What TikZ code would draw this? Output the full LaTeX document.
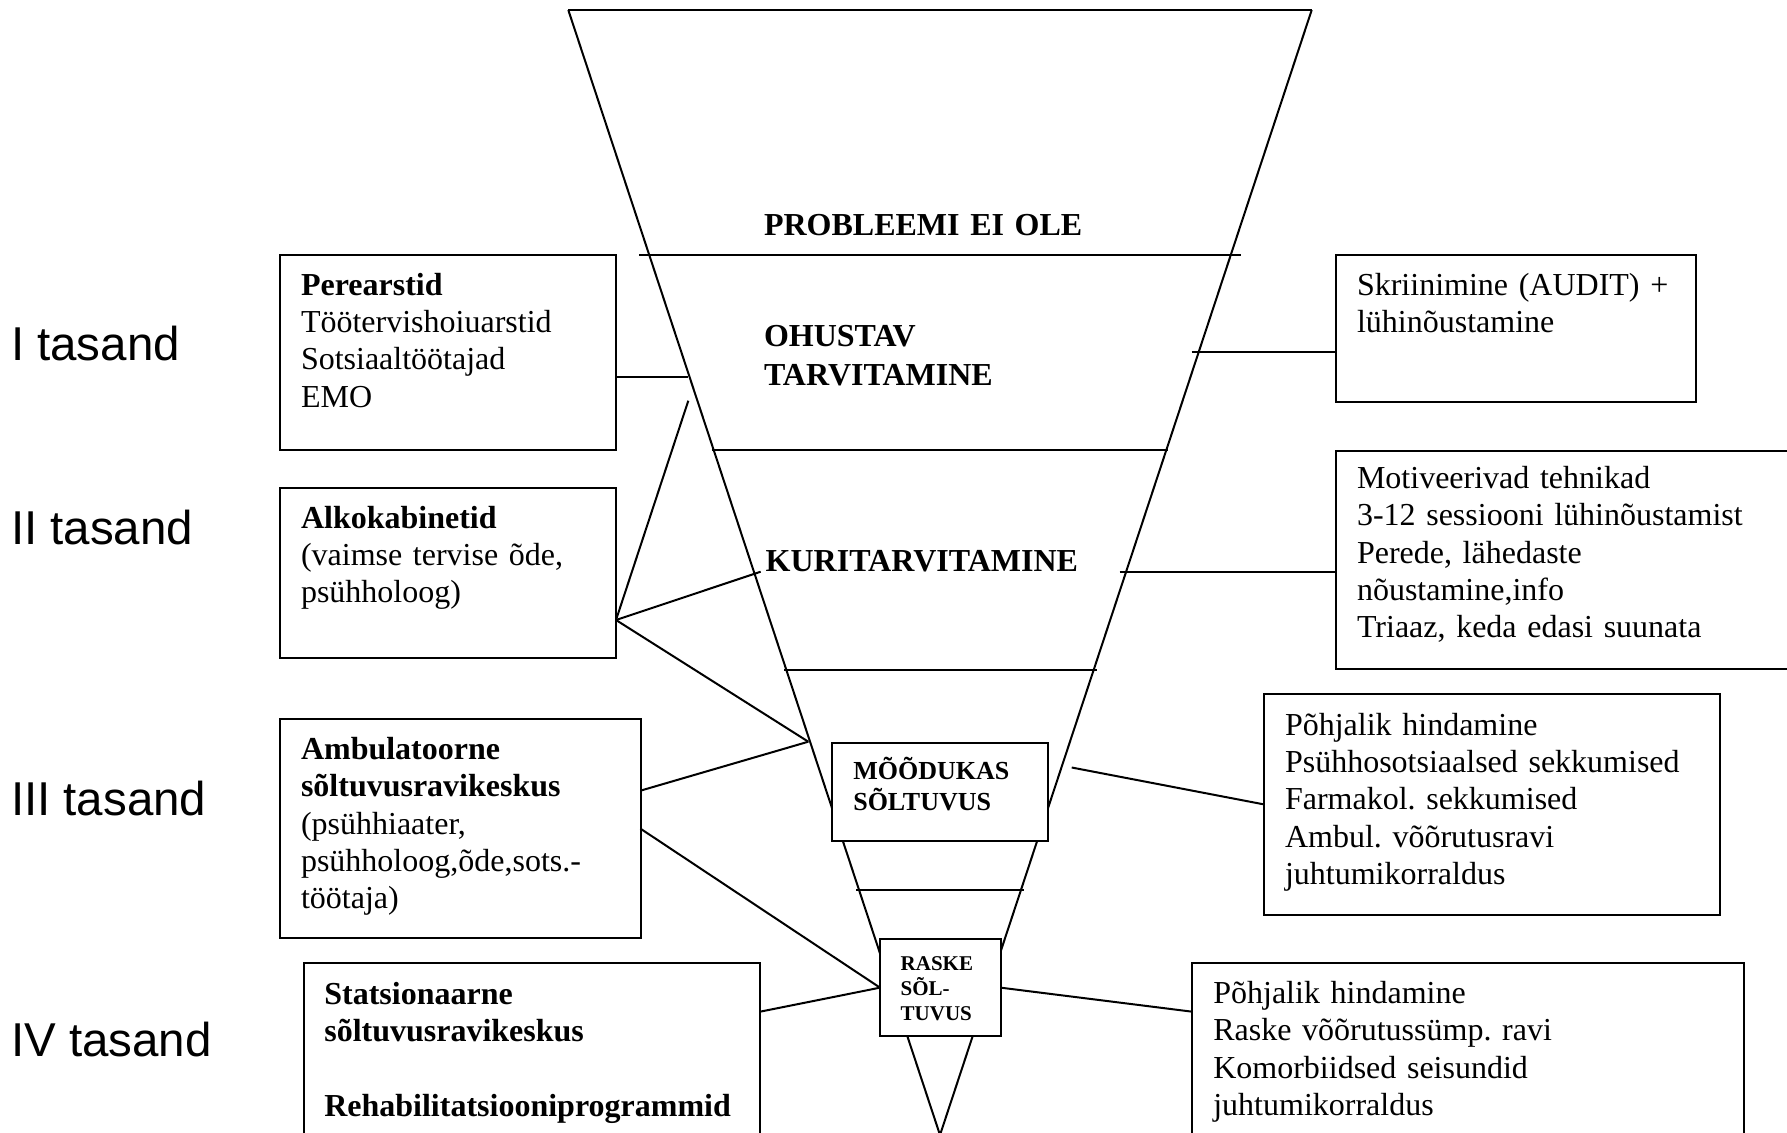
\documentclass[tikz,border=0pt]{standalone}
\usepackage{fontspec}
\setmainfont{Liberation Serif}
\newfontfamily\sanslabel{Liberation Sans}
\frenchspacing
\begin{document}
\begin{tikzpicture}[x=1pt,y=-1pt,line width=2pt,
  box/.style={draw,rectangle,inner sep=0pt,outer sep=0pt,anchor=north west,fill=white},
  txt/.style={inner sep=0pt,outer sep=0pt,anchor=base west,text width=520pt,align=left,font=\frenchspacing\fontsize{32}{37.4}\selectfont},
  headtxt/.style={txt,font=\fontsize{32}{38.3}\selectfont\bfseries},
  tier/.style={inner sep=0pt,outer sep=0pt,anchor=base west,font=\sanslabel\fontsize{47.5}{56}\selectfont}
]
\useasboundingbox (0,0) rectangle (1787,1132);
\clip (0,0) rectangle (1787,1132);
\fill[white] (0,0) rectangle (1787,1132);

% funnel
\coordinate (ftl) at (568.3,10);
\coordinate (ftr) at (1311.7,10);
\coordinate (fap) at (940,1135);
\draw (ftl) -- (ftr);
\draw (ftl) -- (fap) -- (ftr);

% level lines
\draw (639.3,255) -- (1240.7,255);
\draw (711.7,450) -- (1168,450);
\draw (784,670) -- (1096.7,670);
\draw (856,890) -- (1024.3,890);

% centre boxes
\node[box,minimum width=216pt,minimum height=97.4pt] (mood) at (832.3,743.3) {};
\node[box,minimum width=120.7pt,minimum height=96.7pt] (raske) at (880,939.3) {};

% side boxes
\node[box,minimum width=336pt,minimum height=195.5pt] (b1) at (280,254.5) {};
\node[box,minimum width=336pt,minimum height=170.6pt] (b2) at (280,487.7) {};
\node[box,minimum width=360.5pt,minimum height=219.3pt] (b3) at (280,719) {};
\node[box,minimum width=456pt,minimum height=200pt] (b4) at (304,963.3) {};
\node[box,minimum width=360.5pt,minimum height=147.2pt] (r1) at (1335.5,254.5) {};
\node[box,minimum width=480pt,minimum height=218.3pt] (r2) at (1336,450.7) {};
\node[box,minimum width=456pt,minimum height=220.2pt] (r3) at (1264,694.3) {};
\node[box,minimum width=552pt,minimum height=200pt] (r4) at (1192.3,963.3) {};

% connector points
\coordinate (hub) at ([yshift=-47pt]b2.east);
\coordinate (p1) at (688.3,376.7);
\coordinate (p2) at (688.3,400.7);
\coordinate (p3) at (760.7,571.7);
\coordinate (p4) at (808.3,741.7);
\coordinate (p5) at (1191.7,351.7);
\coordinate (p6) at (1119.5,572.3);
\coordinate (p7) at (1071.7,767.5);

% connectors
\draw (b1.east |- p1) -- (p1);
\draw (hub) -- (p2);
\draw (hub) -- (p3);
\draw (hub) -- (p4);
\draw ([yshift=38pt]b3.east) -- (p4);
\draw (b3.east) -- (raske.west);
\draw ([yshift=-48.4pt]b4.north east) -- (raske.west);
\draw (raske.east) -- ([yshift=-48.4pt]r4.north west);
\draw (p7) -- (r3.west);
\draw (p6) -- (r2.west |- p6);
\draw (p5) -- (r1.west |- p5);

% funnel texts
\node[headtxt] (tprob) at (764,235) {PROBLEEMI EI OLE};
\node[headtxt] (tohu) at (764,346.7) {OHUSTAV\\TARVITAMINE};
\node[headtxt] (tkur) at (765.7,571.7) {KURITARVITAMINE};
\node[txt,font=\fontsize{26}{31.7}\selectfont\bfseries] (tmood) at (853.3,779) {MÕÕDUKAS\\SÕLTUVUS};
\node[txt,font=\fontsize{21}{25.3}\selectfont\bfseries] (trask) at (900.7,970) {RASKE\\SÕL-\\TUVUS};

% left texts
\node[txt] (tb1) at (301,295) {\textbf{Perearstid}\\Töötervishoiuarstid\\Sotsiaaltöötajad\\EMO};
\node[txt] (tb2) at (301,528) {\textbf{Alkokabinetid}\\(vaimse tervise õde,\\psühholoog)};
\node[txt] (tb3) at (301,759.3) {\textbf{Ambulatoorne}\\\textbf{sõltuvusravikeskus}\\(psühhiaater,\\psühholoog,õde,sots.-\\töötaja)};
\node[txt] (tb4) at (324.3,1004) {\textbf{Statsionaarne}\\\textbf{sõltuvusravikeskus}\\[37.4pt]\textbf{Rehabilitatsiooniprogrammid}};

% right texts
\node[txt] (tr1) at (1357,295) {Skriinimine (AUDIT) +\\lühinõustamine};
\node[txt] (tr2) at (1357,488.3) {Motiveerivad tehnikad\\3-12 sessiooni lühinõustamist\\Perede, lähedaste\\nõustamine,info\\Triaaz, keda edasi suunata};
\node[txt] (tr3) at (1285,735) {Põhjalik hindamine\\Psühhosotsiaalsed sekkumised\\Farmakol. sekkumised\\Ambul. võõrutusravi\\juhtumikorraldus};
\node[txt] (tr4) at (1213.3,1003.3) {Põhjalik hindamine\\Raske võõrutussümp. ravi\\Komorbiidsed seisundid\\juhtumikorraldus};

% tier labels
\node[tier] (l1) at (11,360) {I tasand};
\node[tier] (l2) at (11,544) {II tasand};
\node[tier] (l3) at (11,815) {III tasand};
\node[tier] (l4) at (11,1056) {IV tasand};
\end{tikzpicture}
\end{document}
